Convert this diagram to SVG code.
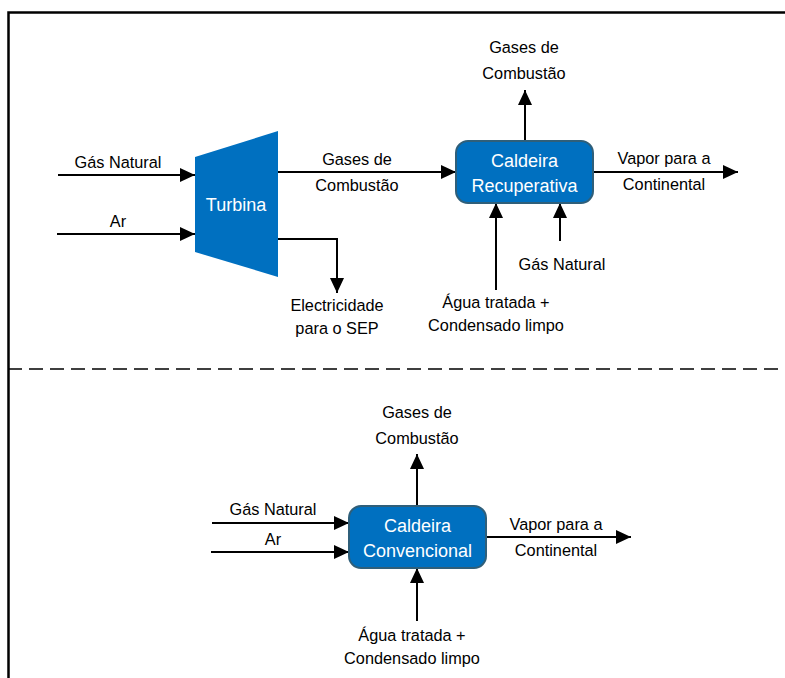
<svg xmlns="http://www.w3.org/2000/svg" width="785" height="678" viewBox="0 0 785 678">
<style>
.lbl{font-family:"Liberation Sans",Arial,sans-serif;font-size:16.3px;fill:#000;text-anchor:middle}
.in{font-family:"Liberation Sans",Arial,sans-serif;font-size:18px;fill:#fff;text-anchor:middle}
.ln{stroke:#000;stroke-width:2;fill:none}
.box{fill:#0070C0;stroke:#2F5F7A;stroke-width:2}
</style>
<defs>
<marker id="ah" markerUnits="userSpaceOnUse" markerWidth="16" markerHeight="14" refX="15" refY="7" orient="auto">
<path d="M0,0 L15,7 L0,14 z" fill="#000"/>
</marker>
</defs>
<rect width="785" height="678" fill="#fff"/>
<g id="frame">
<path d="M8.5,678 V12.5 H785" fill="none" stroke="#000" stroke-width="2.5"/>
<line x1="8" y1="369" x2="785" y2="369" stroke="#000" stroke-width="1.6" stroke-dasharray="14,7"/>
</g>
<g id="connectors">
<line class="ln" x1="58" y1="175" x2="195" y2="175" marker-end="url(#ah)"/>
<line class="ln" x1="57" y1="234" x2="195" y2="234" marker-end="url(#ah)"/>
<line class="ln" x1="278" y1="172" x2="456" y2="172" marker-end="url(#ah)"/>
<polyline class="ln" points="278,239 337,239 337,293" marker-end="url(#ah)"/>
<line class="ln" x1="525" y1="141" x2="525" y2="90" marker-end="url(#ah)"/>
<line class="ln" x1="593" y1="172" x2="738" y2="172" marker-end="url(#ah)"/>
<line class="ln" x1="496" y1="290" x2="496" y2="203" marker-end="url(#ah)"/>
<line class="ln" x1="560" y1="241" x2="560" y2="203" marker-end="url(#ah)"/>
<line class="ln" x1="212" y1="523" x2="349" y2="523" marker-end="url(#ah)"/>
<line class="ln" x1="211" y1="552" x2="349" y2="552" marker-end="url(#ah)"/>
<line class="ln" x1="417" y1="506" x2="417" y2="454" marker-end="url(#ah)"/>
<line class="ln" x1="486" y1="537" x2="631" y2="537" marker-end="url(#ah)"/>
<line class="ln" x1="417" y1="621" x2="417" y2="568" marker-end="url(#ah)"/>
</g>
<g id="labels">
<text class="lbl" x="118" y="168">Gás Natural</text>
<text class="lbl" x="118" y="227">Ar</text>
<text class="lbl" x="357" y="165">Gases de</text>
<text class="lbl" x="357" y="191">Combustão</text>
<text class="lbl" x="337" y="311">Electricidade</text>
<text class="lbl" x="337" y="334">para o SEP</text>
<text class="lbl" x="524" y="53">Gases de</text>
<text class="lbl" x="524" y="79">Combustão</text>
<text class="lbl" x="664" y="164">Vapor para a</text>
<text class="lbl" x="664" y="190">Continental</text>
<text class="lbl" x="496" y="308">Água tratada +</text>
<text class="lbl" x="496" y="331">Condensado limpo</text>
<text class="lbl" x="562" y="270">Gás Natural</text>
<text class="lbl" x="273" y="515">Gás Natural</text>
<text class="lbl" x="273" y="545">Ar</text>
<text class="lbl" x="417" y="418">Gases de</text>
<text class="lbl" x="417" y="444">Combustão</text>
<text class="lbl" x="556" y="530">Vapor para a</text>
<text class="lbl" x="556" y="556">Continental</text>
<text class="lbl" x="412" y="641">Água tratada +</text>
<text class="lbl" x="412" y="664">Condensado limpo</text>
</g>
<g id="turbina">
<polygon points="195,157 278,131 278,277 195,252" fill="#0070C0"/>
<text class="in" x="236" y="211">Turbina</text>
</g>
<g id="caldeira-recuperativa">
<rect class="box" x="456" y="141" width="137" height="62" rx="12"/>
<text class="in" x="524.5" y="167">Caldeira</text>
<text class="in" x="524.5" y="192">Recuperativa</text>
</g>
<g id="caldeira-convencional">
<rect class="box" x="349" y="506" width="137" height="62" rx="12"/>
<text class="in" x="417.5" y="532">Caldeira</text>
<text class="in" x="417.5" y="557">Convencional</text>
</g>
</svg>
